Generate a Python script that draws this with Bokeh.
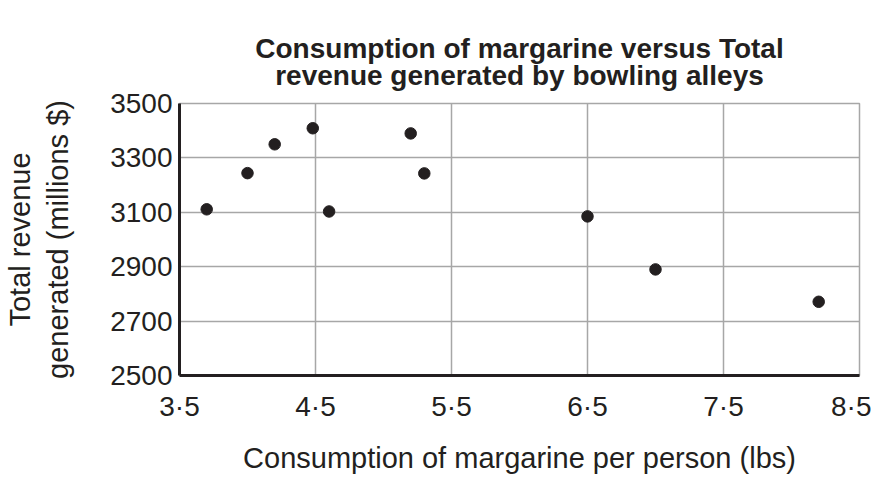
from bokeh.plotting import figure
from bokeh.models import Range1d, FixedTicker, Title, LinearAxis
from bokeh.embed import file_html
from bokeh.resources import INLINE

# Data
consumption = [3.7, 4.0, 4.2, 4.48, 4.6, 5.2, 5.3, 6.5, 7.0, 8.2]
revenue = [3111, 3244, 3350, 3409, 3103, 3390, 3243, 3085, 2890, 2771]

x_ticks = [3.5, 4.5, 5.5, 6.5, 7.5, 8.5]
x_tick_labels = ["3·5", "4·5", "5·5", "6·5", "7·5", "8·5"]
y_ticks = [2500, 2700, 2900, 3100, 3300, 3500]

title_line1 = "Consumption of margarine versus Total"
title_line2 = "revenue generated by bowling alleys"
x_label = "Consumption of margarine per person (lbs)"
y_label = "Total revenue\ngenerated (millions $)"

FONT = "Liberation Sans"
TEXT = "#231f20"
GRID = "#a7a7a7"

p = figure(frame_width=680, frame_height=272, output_backend="svg",
           toolbar_location=None, x_range=Range1d(3.5, 8.5),
           y_range=Range1d(2500, 3500),
           min_border_left=171, min_border_right=12, min_border_top=103,
           min_border_bottom=88, title=None)
p.background_fill_color = "white"
p.border_fill_color = "white"
p.outline_line_color = GRID
p.outline_line_width = 1.5

xa = p.below[0]
ya = p.left[0]
xa.ticker = FixedTicker(ticks=x_ticks)
xa.major_label_overrides = {t: l for t, l in zip(x_ticks, x_tick_labels)}
ya.ticker = FixedTicker(ticks=y_ticks)

for ax in (xa, ya):
    ax.axis_line_color = TEXT
    ax.axis_line_width = 3
    ax.major_tick_line_color = None
    ax.minor_tick_line_color = None
    ax.major_label_text_font = FONT
    ax.major_label_text_font_size = "28px"
    ax.major_label_text_color = TEXT
    ax.axis_label_text_font = FONT
    ax.axis_label_text_font_size = "29px"
    ax.axis_label_text_font_style = "normal"
    ax.axis_label_text_color = TEXT

xa.axis_label = x_label
xa.major_label_standoff = 9
xa.axis_label_standoff = 17
ya.axis_label = y_label
ya.major_label_standoff = 1
ya.axis_label_standoff = 33

# invisible spacer between the frame and the title
spacer = LinearAxis(ticker=FixedTicker(ticks=[]), axis_line_color=None,
                    major_tick_line_color=None, minor_tick_line_color=None,
                    major_tick_out=18, major_tick_in=0, minor_tick_out=0,
                    minor_tick_in=0, major_label_standoff=0,
                    major_label_text_font_size="0px")
p.add_layout(spacer, "above")

title_props = Title.properties()
common = dict(align="center", text_font=FONT, text_font_size="28px",
              text_font_style="bold", text_color=TEXT, offset=12)
if "text_align" in title_props:
    t = Title(text=title_line1 + "\n" + title_line2, text_line_height=0.9,
              standoff=24, text_align="center", **common)
    p.add_layout(t, "above")
else:
    p.add_layout(Title(text=title_line2, standoff=30, **common), "above")
    p.add_layout(Title(text=title_line1, standoff=-21, **common), "above")

p.xgrid.ticker = FixedTicker(ticks=x_ticks)
p.ygrid.ticker = FixedTicker(ticks=y_ticks)
p.grid.grid_line_color = GRID
p.grid.grid_line_width = 1.5

p.scatter(consumption, revenue, size=11.5, color=TEXT)

open("out.html", "w").write(file_html(p, INLINE))
